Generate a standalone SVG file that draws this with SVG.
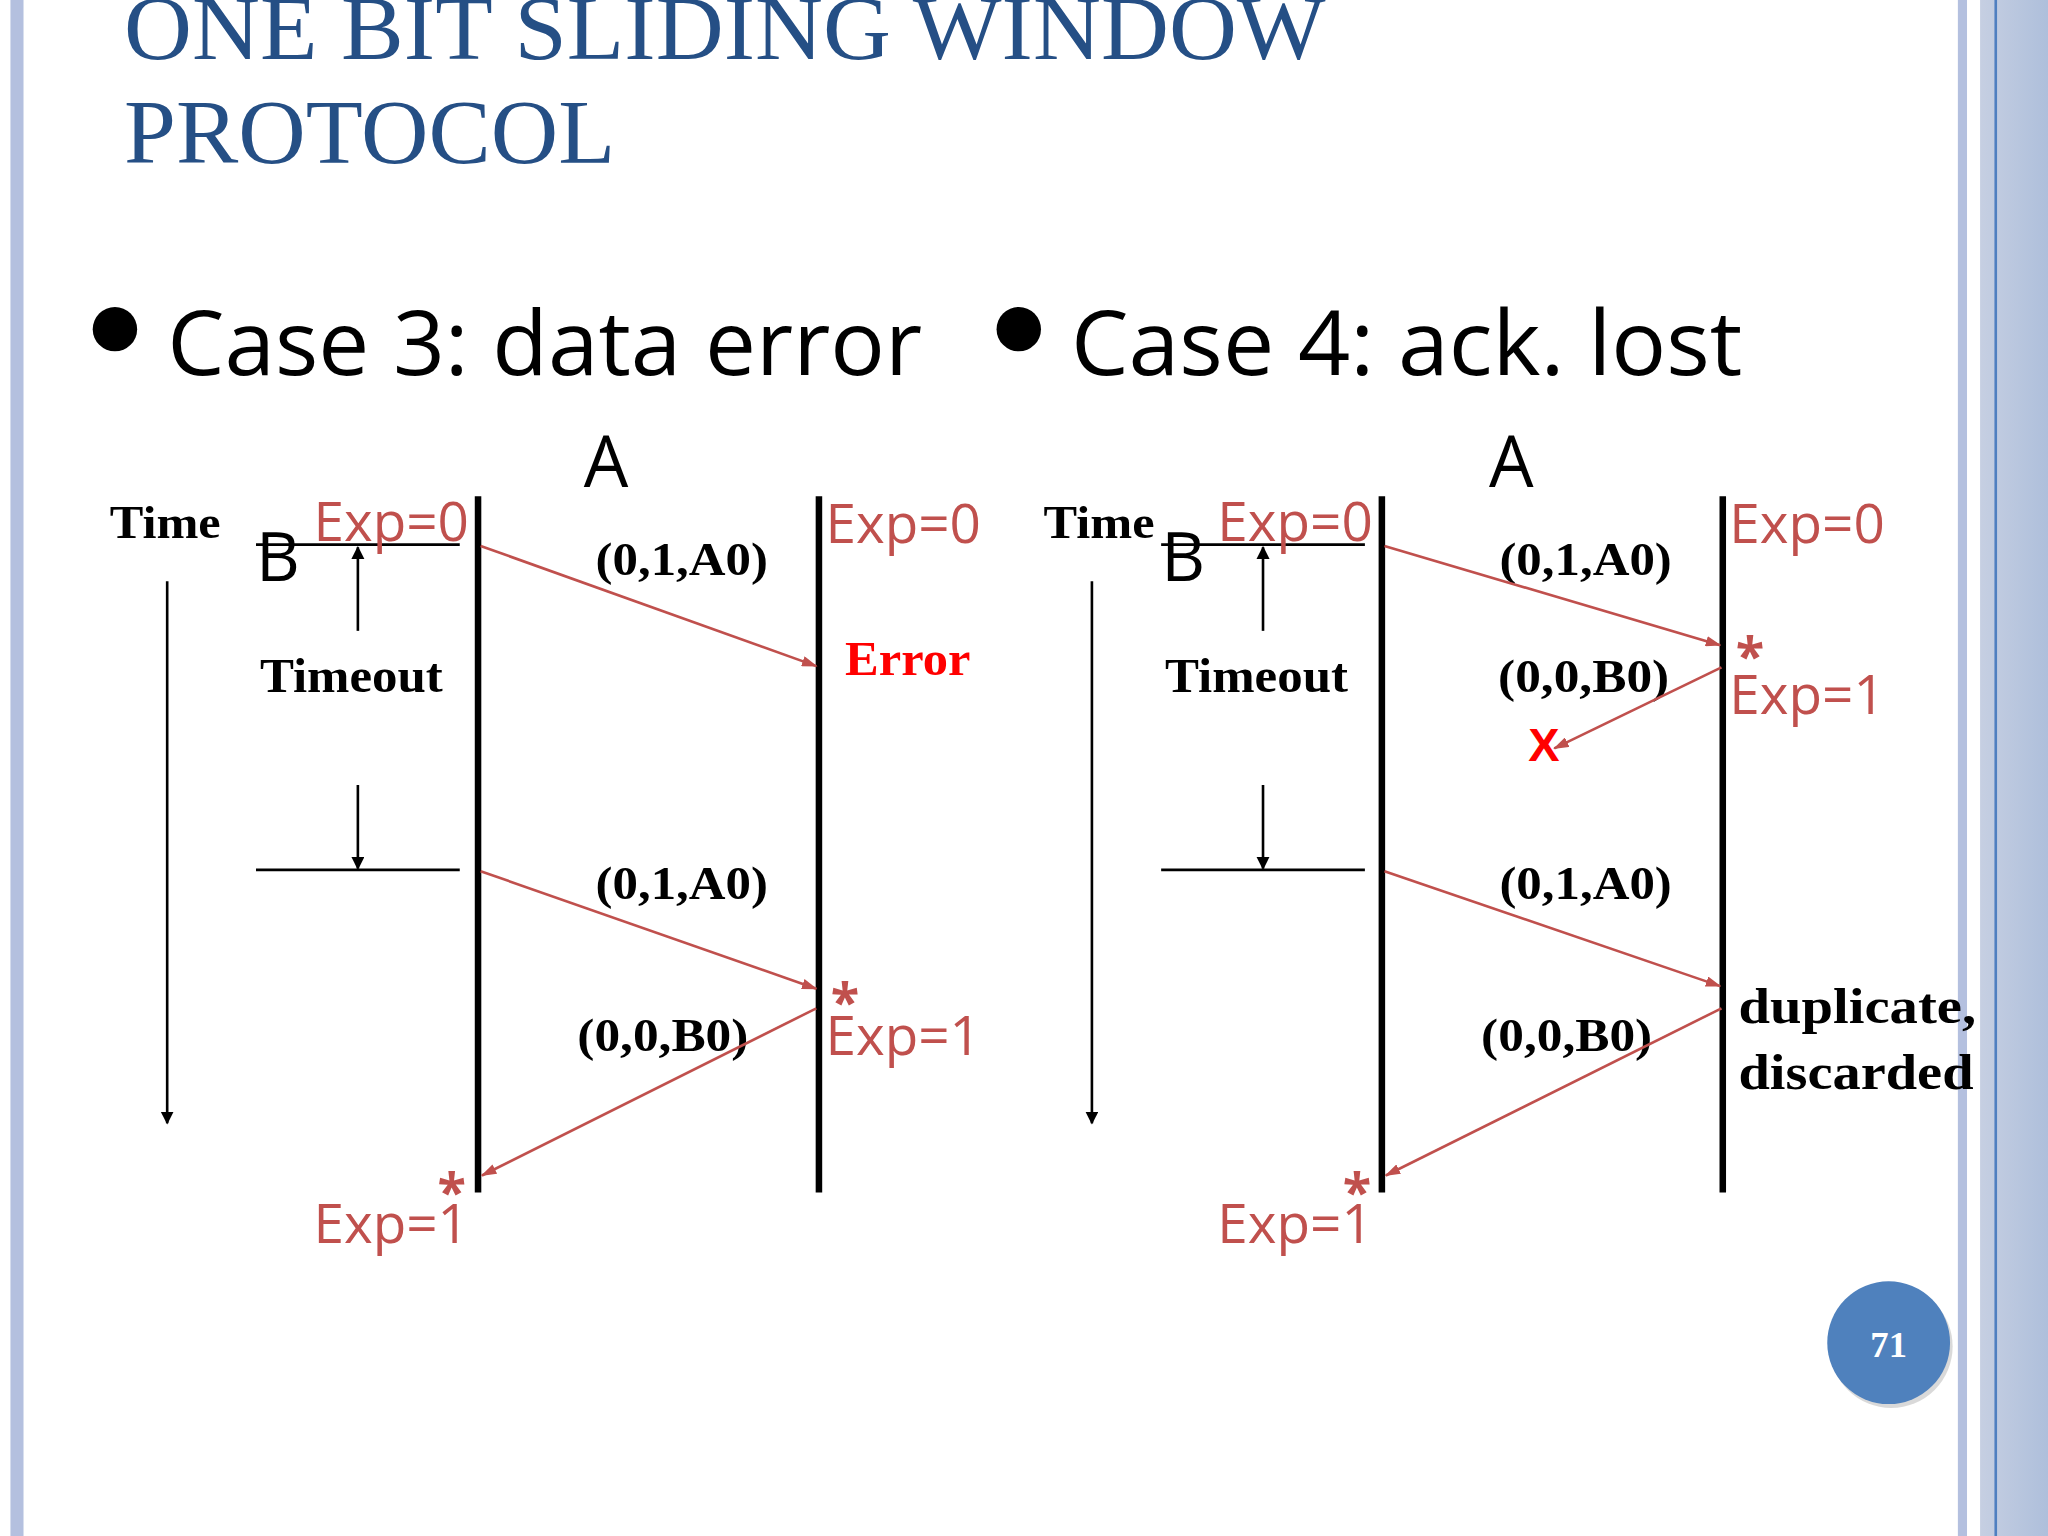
<svg xmlns="http://www.w3.org/2000/svg" width="2048" height="1536" viewBox="0 0 2048 1536">
<defs>
<style>
.sr{font-family:"Liberation Serif",serif;font-weight:bold;fill:#000}
.red{font-family:"Open Sans","Noto Sans",sans-serif;fill:#c0504d}
.sans{font-family:"Open Sans","Noto Sans",sans-serif;fill:#000}
.ln{stroke:#000;stroke-width:5}
.th{stroke:#000;stroke-width:2}
.msg{stroke:#c0504d;stroke-width:2;fill:none;marker-end:url(#ra)}
</style>
<marker id="ra" markerWidth="12" markerHeight="8" refX="11" refY="4" orient="auto" markerUnits="userSpaceOnUse"><path d="M0,0 L12,4 L0,8 z" fill="#c0504d"/></marker>
<marker id="ba" markerWidth="10" markerHeight="12" refX="9" refY="5" orient="auto" markerUnits="userSpaceOnUse"><path d="M0,0 L10,5 L0,10 z" fill="#000"/></marker>
<linearGradient id="bg" x1="0" x2="1"><stop offset="0" stop-color="#c6cfe2"/><stop offset="1" stop-color="#aebfdb"/></linearGradient>
</defs>
<rect width="2048" height="1536" fill="#fff"/>
<g transform="scale(1.30612)">
<rect x="8" y="0" width="10" height="1176" fill="#b4c0df"/>
<rect x="1499" y="0" width="7" height="1176" fill="#b4c0df"/>
<rect x="1516" y="0" width="52" height="1176" fill="url(#bg)"/>
<rect x="1527" y="0" width="2" height="1176" fill="#4f7fc0"/>
<g id="title" font-family="Liberation Serif,serif" font-size="70" fill="#254f85">
<text x="95" y="45" textLength="920" lengthAdjust="spacingAndGlyphs">ONE BIT SLIDING WINDOW</text>
<text x="95" y="125" textLength="376" lengthAdjust="spacingAndGlyphs">PROTOCOL</text>
</g>
<g id="bullets">
<circle cx="88" cy="252" r="17" fill="#000"/>
<text class="sans" x="128" y="287" font-size="68" textLength="578" lengthAdjust="spacingAndGlyphs">Case 3: data error</text>
<circle cx="780" cy="252" r="17" fill="#000"/>
<text class="sans" x="820" y="287" font-size="68" textLength="514" lengthAdjust="spacingAndGlyphs">Case 4: ack. lost</text>
</g>
<g id="case3">
<text class="sans" x="447" y="373" font-size="54">A</text>
<text class="sr" x="84" y="412" font-size="36" textLength="85" lengthAdjust="spacingAndGlyphs">Time</text>
<line class="th" x1="128" y1="445" x2="128" y2="860" marker-end="url(#ba)"/>
<text class="sans" x="196" y="445" font-size="52">B</text>
<line class="th" x1="196" y1="417" x2="352" y2="417"/>
<text class="red" x="240" y="414" font-size="42">Exp=0</text>
<line class="th" x1="274" y1="483" x2="274" y2="419" marker-end="url(#ba)"/>
<text class="sr" x="199" y="530" font-size="37" textLength="140" lengthAdjust="spacingAndGlyphs">Timeout</text>
<line class="th" x1="274" y1="601" x2="274" y2="665" marker-end="url(#ba)"/>
<line class="th" x1="196" y1="666" x2="352" y2="666"/>
<line class="ln" x1="366" y1="380" x2="366" y2="913"/>
<line class="ln" x1="627" y1="380" x2="627" y2="913"/>
<text class="red" x="632" y="416" font-size="42">Exp=0</text>
<text class="sr" x="456" y="440" font-size="36" textLength="132" lengthAdjust="spacingAndGlyphs">(0,1,A0)</text>
<text x="647" y="517" font-size="37" font-family="Liberation Serif,serif" font-weight="bold" fill="#ff0000" textLength="96" lengthAdjust="spacingAndGlyphs">Error</text>
<text class="sr" x="456" y="688" font-size="36" textLength="132" lengthAdjust="spacingAndGlyphs">(0,1,A0)</text>
<text class="red" x="636" y="782" font-size="40" font-weight="bold">*</text>
<text class="red" x="632" y="808" font-size="42">Exp=1</text>
<text class="sr" x="442" y="805" font-size="36" textLength="131" lengthAdjust="spacingAndGlyphs">(0,0,B0)</text>
<text class="red" x="335" y="927" font-size="40" font-weight="bold">*</text>
<text class="red" x="240" y="952" font-size="42">Exp=1</text>
</g>
<g id="case4">
<text class="sans" x="1140" y="373" font-size="54">A</text>
<text class="sr" x="799" y="412" font-size="36" textLength="85" lengthAdjust="spacingAndGlyphs">Time</text>
<line class="th" x1="836" y1="445" x2="836" y2="860" marker-end="url(#ba)"/>
<text class="sans" x="889" y="445" font-size="52">B</text>
<line class="th" x1="889" y1="417" x2="1045" y2="417"/>
<text class="red" x="932" y="414" font-size="42">Exp=0</text>
<line class="th" x1="967" y1="483" x2="967" y2="419" marker-end="url(#ba)"/>
<text class="sr" x="892" y="530" font-size="37" textLength="140" lengthAdjust="spacingAndGlyphs">Timeout</text>
<line class="th" x1="967" y1="601" x2="967" y2="665" marker-end="url(#ba)"/>
<line class="th" x1="889" y1="666" x2="1045" y2="666"/>
<line class="ln" x1="1058" y1="380" x2="1058" y2="913"/>
<line class="ln" x1="1319" y1="380" x2="1319" y2="913"/>
<text class="red" x="1324" y="416" font-size="42">Exp=0</text>
<text class="sr" x="1148" y="440" font-size="36" textLength="132" lengthAdjust="spacingAndGlyphs">(0,1,A0)</text>
<text class="red" x="1329" y="517" font-size="40" font-weight="bold">*</text>
<text class="red" x="1324" y="547" font-size="42">Exp=1</text>
<text class="sr" x="1147" y="530" font-size="36" textLength="131" lengthAdjust="spacingAndGlyphs">(0,0,B0)</text>
<text x="1170" y="583" font-size="36" font-family="Liberation Sans,sans-serif" font-weight="bold" fill="#ff0000">X</text>
<text class="sr" x="1148" y="688" font-size="36" textLength="132" lengthAdjust="spacingAndGlyphs">(0,1,A0)</text>
<text class="sr" x="1331" y="783" font-size="38" textLength="182" lengthAdjust="spacingAndGlyphs">duplicate,</text>
<text class="sr" x="1331" y="834" font-size="38" textLength="180" lengthAdjust="spacingAndGlyphs">discarded</text>
<text class="sr" x="1134" y="805" font-size="36" textLength="131" lengthAdjust="spacingAndGlyphs">(0,0,B0)</text>
<text class="red" x="1028" y="927" font-size="40" font-weight="bold">*</text>
<text class="red" x="932" y="952" font-size="42">Exp=1</text>
</g>
<g id="connectors">
<line class="msg" x1="368" y1="418" x2="625" y2="510"/>
<line class="msg" x1="368" y1="667" x2="625" y2="757"/>
<line class="msg" x1="625" y1="772" x2="369" y2="900"/>
<line class="msg" x1="1060" y1="418" x2="1317" y2="494"/>
<line class="msg" x1="1318" y1="511" x2="1190" y2="573"/>
<line class="msg" x1="1060" y1="667" x2="1317" y2="755"/>
<line class="msg" x1="1318" y1="772" x2="1061" y2="900"/>
</g>
<g id="page">
<circle cx="1448" cy="1031" r="47" fill="#000" opacity="0.15"/>
<circle cx="1446" cy="1028" r="47" fill="#4f81bd"/>
<text x="1446" y="1039" font-size="28" text-anchor="middle" font-family="Liberation Serif,serif" font-weight="bold" fill="#fff">71</text>
</g>
</g>
</svg>
